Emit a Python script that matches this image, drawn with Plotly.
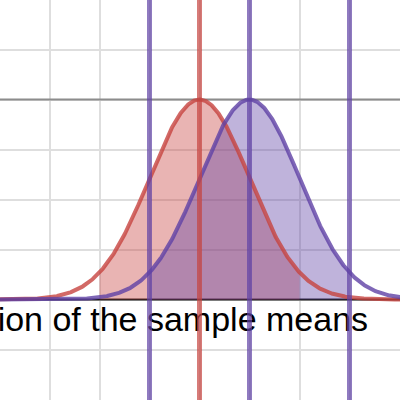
import numpy as np
import plotly.graph_objects as go

# Distributions
dist_names = ["red", "purple"]
means = [0.0, 1.0]
sds = [1.0, 1.0]
peak_heights = [4.0, 4.0]
fill_from = [-2.0, -1.0]
fill_to = [2.0, 3.0]
vline_red = [0.0]
vline_purple = [-1.0, 1.0, 3.0]
hline_peak = [4.0]
label_text = "Distribution of the sample means"

RED = "#c74440"
PURPLE = "#6042a6"
XR = [-3.99, 4.01]
YR = [-2.01, 5.99]

def curve(m, s, h, a, b, n=400):
    xs = np.linspace(a, b, n)
    return xs, h * np.exp(-0.5 * ((xs - m) / s) ** 2)

fig = go.Figure()

# peak reference line and x-axis line
fig.add_trace(go.Scatter(x=XR, y=[hline_peak[0]] * 2, mode="lines",
                         line=dict(color="#8c8c8c", width=2), hoverinfo="skip"))
fig.add_trace(go.Scatter(x=XR, y=[0, 0], mode="lines",
                         line=dict(color="#1a1a1a", width=2), hoverinfo="skip"))

# label
fig.add_trace(go.Scatter(x=[-1.58], y=[-0.46], mode="text", text=[label_text],
                         textposition="middle center", cliponaxis=False,
                         textfont=dict(family="Liberation Sans, Arial", size=34, color="black"),
                         hoverinfo="skip"))

colors = [RED, PURPLE]
# fills
for i in range(2):
    xs, ys = curve(means[i], sds[i], peak_heights[i], fill_from[i], fill_to[i])
    fig.add_trace(go.Scatter(x=xs, y=ys, mode="lines", fill="tozeroy",
                             line=dict(width=0, color=colors[i]),
                             fillcolor="rgba(199,68,64,0.4)" if i == 0 else "rgba(96,66,166,0.4)",
                             hoverinfo="skip"))
# curves
for i in range(2):
    xs, ys = curve(means[i], sds[i], peak_heights[i], XR[0] - 0.1, XR[1] + 0.1, 600)
    fig.add_trace(go.Scatter(x=xs, y=ys, mode="lines", opacity=0.8,
                             line=dict(width=4, color=colors[i]), hoverinfo="skip"))

# vertical lines
for v in vline_red:
    fig.add_trace(go.Scatter(x=[v, v], y=[YR[0] - 1, YR[1] + 1], mode="lines", opacity=0.7,
                             line=dict(width=5, color=RED), hoverinfo="skip"))
for v in vline_purple:
    fig.add_trace(go.Scatter(x=[v, v], y=[YR[0] - 1, YR[1] + 1], mode="lines", opacity=0.7,
                             line=dict(width=5, color=PURPLE), hoverinfo="skip"))

fig.update_layout(
    width=400, height=400, margin=dict(l=0, r=0, t=0, b=0),
    paper_bgcolor="white", plot_bgcolor="white", showlegend=False,
    xaxis=dict(range=XR, dtick=1, tick0=0, showgrid=True, gridcolor="#dedede", gridwidth=2,
               zeroline=False, showticklabels=False, ticks="", fixedrange=True),
    yaxis=dict(range=YR, dtick=1, tick0=0, showgrid=True, gridcolor="#dedede", gridwidth=2,
               zeroline=False, showticklabels=False, ticks="", fixedrange=True),
)
fig.write_html("out.html", config=dict(displayModeBar=False),
               post_script="document.body.style.margin='0';document.body.style.padding='0';")
